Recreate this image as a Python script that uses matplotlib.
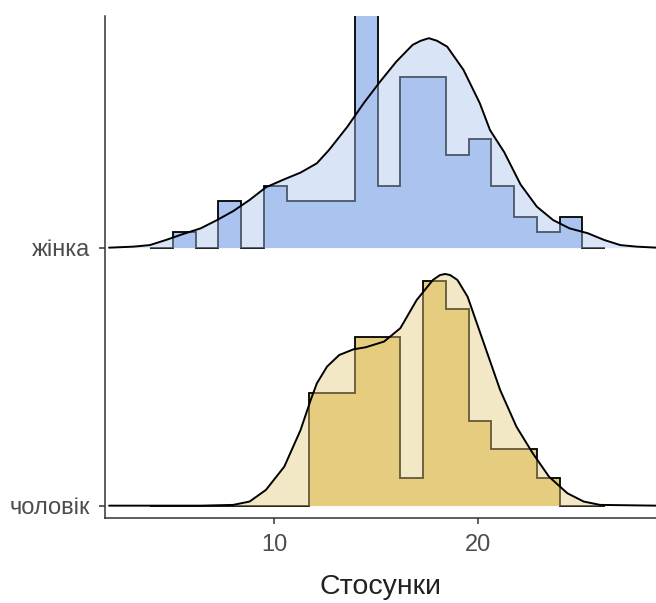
import numpy as np
import matplotlib.pyplot as plt

plt.rcParams['font.family'] = ['Liberation Sans', 'DejaVu Sans']

# groups from bottom to top
groups = ['чоловік', 'жінка']

# histogram bins (shared by both groups)
bin_start = 3.91
bin_width = 1.117
counts_m = np.array([0, 0, 0, 0, 0, 0, 0, 4, 4, 6, 6, 1, 8, 7, 3, 2, 2, 1, 0, 0])
counts_f = np.array([0, 1, 0, 3, 0, 4, 3, 3, 3, 15, 4, 11, 11, 6, 7, 4, 2, 1, 2, 0])

# density ridges (height in units of row spacing)
dens_x_m = [1.9, 6.4, 8.0, 8.8, 9.6, 10.5, 11.3, 11.8, 12.1, 12.6, 13.2, 13.9, 14.5,
            15.4, 16.2, 17.0, 17.8, 18.15, 18.4, 18.64, 19.0, 19.5, 20.3, 21.1,
            21.9, 22.7, 23.5, 24.4, 25.2, 26.0, 28.8]
dens_h_m = [0, 0, 0.003, 0.016, 0.061, 0.151, 0.293, 0.410, 0.474, 0.539, 0.584,
            0.606, 0.614, 0.636, 0.688, 0.797, 0.875, 0.894, 0.898, 0.894, 0.875,
            0.810, 0.629, 0.448, 0.306, 0.203, 0.112, 0.048, 0.016, 0.003, 0]
dens_x_f = [1.9, 3.1, 3.9, 4.7, 5.5, 6.4, 7.2, 8.0, 8.8, 9.6, 10.5, 11.3, 12.1,
            12.7, 13.6, 14.4, 15.2, 16.0, 16.8, 17.2, 17.6, 18.0, 18.5, 19.3, 20.1,
            20.6, 21.3, 22.1, 22.9, 23.7, 24.5, 25.4, 26.2, 27.0, 27.8, 28.8]
dens_h_f = [0, 0.004, 0.010, 0.030, 0.052, 0.075, 0.107, 0.142, 0.185, 0.234,
            0.265, 0.291, 0.327, 0.379, 0.469, 0.560, 0.643, 0.721, 0.786, 0.802,
            0.812, 0.802, 0.779, 0.689, 0.560, 0.456, 0.370, 0.245, 0.159, 0.107,
            0.075, 0.056, 0.030, 0.010, 0.004, 0]

colors = ['#E5CC7F', '#AAC4EF']
edges = bin_start + bin_width * np.arange(len(counts_f) + 1)

hists = [counts_m, counts_f]
dens = [(dens_x_m, dens_h_m), (dens_x_f, dens_h_f)]
max_density = max((c / (c.sum() * bin_width)).max() for c in hists)
scale = 0.9 / max_density

fig = plt.figure(figsize=(6.56, 6.03), dpi=100)
ax = fig.add_axes([105 / 656, (603 - 518.3) / 603, 1 - 105 / 656, (518.3 - 16) / 603])

for i in [1, 0]:
    c = hists[i]
    h = c / (c.sum() * bin_width) * scale
    ax.stairs(h + i, edges, baseline=i, fill=True, color=colors[i], lw=0, zorder=2)
    ax.stairs(h + i, edges, baseline=i, fill=False, color='black', lw=1.3, zorder=2.1)

for i in [1, 0]:
    x, h = dens[i]
    h = np.array(h)
    ax.fill_between(x, i, i + h, color=colors[i], alpha=0.44, lw=0, zorder=3)
    ax.plot(x, i + h, color='black', lw=1.4, zorder=3.1,
            solid_joinstyle='round', solid_capstyle='round')

ax.set_xlim(1.70, 28.75)
ax.set_ylim(-0.049, 1.898)
ax.set_xticks([10, 20])
ax.set_yticks([0, 1])
ax.set_yticklabels(groups)
ax.tick_params(axis='both', labelsize=17, labelcolor='#4D4D4D', color='#333333',
               length=4.5, width=1.1)
ax.tick_params(axis='x', pad=7)
ax.tick_params(axis='y', pad=6.5)
for side in ['top', 'right']:
    ax.spines[side].set_visible(False)
for side in ['left', 'bottom']:
    ax.spines[side].set_color('#333333')
    ax.spines[side].set_linewidth(1.1)

ax.set_xlabel('Стосунки', fontsize=20.5, color='#222222', labelpad=13)

fig.savefig('out.png', dpi=100)
